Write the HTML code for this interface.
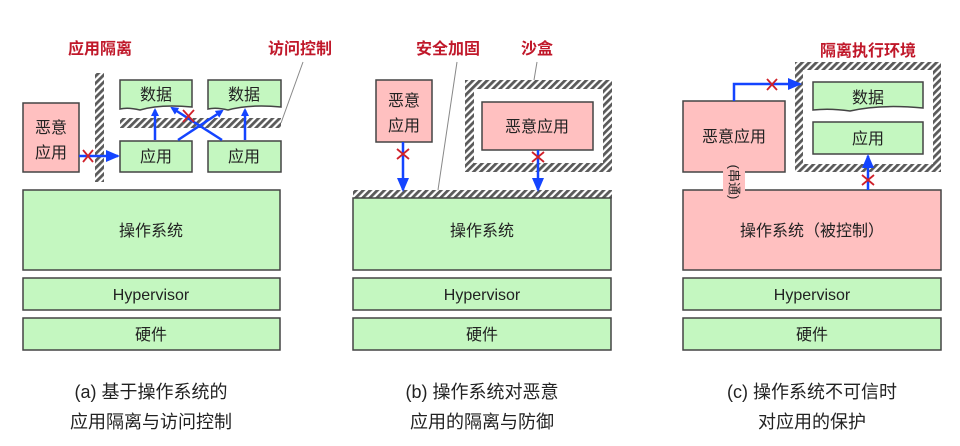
<!DOCTYPE html>
<html><head><meta charset="utf-8"><style>
html,body{margin:0;padding:0;background:#fff;}
svg{display:block;}
text{font-family:"Liberation Sans","Noto Sans CJK SC",sans-serif;fill:#222;}
.r{fill:#c0182a;font-weight:bold;font-size:16px;}
.g{fill:#c4f7c0;stroke:#444;stroke-width:1.5;}
.p{fill:#ffc0c0;stroke:#444;stroke-width:1.5;}
.t{font-size:16px;text-anchor:middle;}
.c{font-size:18px;text-anchor:middle;}
.b{stroke:#1444ff;stroke-width:2.5;fill:none;}
.x{stroke:#d0202a;stroke-width:1.8;}
</style></head><body>
<svg width="960" height="446" viewBox="0 0 960 446" xmlns="http://www.w3.org/2000/svg">
<defs>
<pattern id="h" patternUnits="userSpaceOnUse" width="5" height="5" patternTransform="rotate(45)">
<rect width="5" height="5" fill="#fff"/><rect width="2.8" height="5" fill="#5a5a5a"/>
</pattern>
<marker id="a" markerWidth="8" markerHeight="8" refX="6" refY="4" orient="auto" markerUnits="userSpaceOnUse"><path d="M0,0 L8,4 L0,8z" fill="#1444ff"/></marker>
<marker id="A" markerWidth="14" markerHeight="12" refX="12" refY="6" orient="auto" markerUnits="userSpaceOnUse"><path d="M0,0 L14,6 L0,12z" fill="#1444ff"/></marker>
</defs>

<!-- Panel a -->
<text class="r" x="100" y="54" text-anchor="middle">应用隔离</text>
<text class="r" x="300" y="54" text-anchor="middle">访问控制</text>
<line x1="303" y1="62" x2="281" y2="123" stroke="#888" stroke-width="1"/>
<rect x="95" y="73" width="9" height="109" fill="url(#h)"/>
<rect x="120" y="118" width="161" height="10" fill="url(#h)"/>
<rect class="p" x="23" y="103" width="56" height="69"/>
<text class="t" x="51" y="133">恶意</text><text class="t" x="51" y="158">应用</text>
<path class="g" d="M120,80 H192 V107 Q160,104 140,110 Q128,107 120,109 Z"/>
<text class="t" x="156" y="100">数据</text>
<path class="g" d="M208,80 H281 V107 Q250,104 228,110 Q216,107 208,109 Z"/>
<text class="t" x="244" y="100">数据</text>
<rect class="g" x="120" y="141" width="72" height="31"/><text class="t" x="156" y="162">应用</text>
<rect class="g" x="208" y="141" width="73" height="31"/><text class="t" x="244" y="162">应用</text>
<line class="b" x1="79" y1="156" x2="118" y2="156" marker-end="url(#A)"/>
<path class="x" d="M83,150 L93,162 M93,150 L83,162"/>
<line class="b" x1="155" y1="140" x2="155" y2="110" marker-end="url(#a)"/>
<line class="b" x1="245" y1="140" x2="245" y2="110" marker-end="url(#a)"/>
<line class="b" x1="178" y1="140" x2="222" y2="111" marker-end="url(#a)"/>
<line class="b" x1="222" y1="140" x2="172" y2="108" marker-end="url(#a)"/>
<path class="x" d="M183,110 L194,122 M194,110 L183,122"/>
<rect class="g" x="23" y="190" width="257" height="80"/><text class="t" x="151" y="236">操作系统</text>
<rect class="g" x="23" y="278" width="257" height="32"/><text class="t" x="151" y="300">Hypervisor</text>
<rect class="g" x="23" y="318" width="257" height="32"/><text class="t" x="151" y="340">硬件</text>
<text class="c" x="151" y="398">(a) 基于操作系统的</text>
<text class="c" x="151" y="428">应用隔离与访问控制</text>

<!-- Panel b -->
<text class="r" x="448" y="54" text-anchor="middle">安全加固</text>
<text class="r" x="537" y="54" text-anchor="middle">沙盒</text>
<line x1="457" y1="62" x2="438" y2="190" stroke="#888" stroke-width="1"/>
<line x1="537" y1="62" x2="534" y2="80" stroke="#888" stroke-width="1"/>
<rect x="465" y="80" width="147" height="92" fill="url(#h)"/>
<rect x="474" y="89" width="129" height="74" fill="#fff"/>
<rect class="p" x="482" y="102" width="111" height="48"/><text class="t" x="537" y="132">恶意应用</text>
<rect class="p" x="376" y="80" width="56" height="62"/>
<text class="t" x="404" y="106">恶意</text><text class="t" x="404" y="131">应用</text>
<rect x="353" y="190" width="259" height="9" fill="url(#h)"/>
<rect class="g" x="353" y="198" width="258" height="72"/><text class="t" x="482" y="236">操作系统</text>
<line class="b" x1="403" y1="142" x2="403" y2="190" marker-end="url(#A)"/>
<path class="x" d="M397,149 L409,159 M409,149 L397,159"/>
<line class="b" x1="538" y1="150" x2="538" y2="190" marker-end="url(#A)"/>
<path class="x" d="M532,152 L544,162 M544,152 L532,162"/>
<rect class="g" x="353" y="278" width="258" height="32"/><text class="t" x="482" y="300">Hypervisor</text>
<rect class="g" x="353" y="318" width="258" height="32"/><text class="t" x="482" y="340">硬件</text>
<text class="c" x="482" y="398">(b) 操作系统对恶意</text>
<text class="c" x="482" y="428">应用的隔离与防御</text>

<!-- Panel c -->
<text class="r" x="868" y="56" text-anchor="middle">隔离执行环境</text>
<rect x="795" y="62" width="146" height="110" fill="url(#h)"/>
<rect x="803" y="70" width="130" height="94" fill="#fff"/>
<path class="g" d="M813,82 H923 V108 Q880,104 850,111 Q830,108 813,110 Z"/>
<text class="t" x="868" y="103">数据</text>
<rect class="g" x="813" y="122" width="110" height="32"/><text class="t" x="868" y="144">应用</text>
<rect class="p" x="683" y="101" width="102" height="71"/><text class="t" x="734" y="142">恶意应用</text>
<rect class="p" x="683" y="190" width="258" height="80"/><text class="t" x="812" y="236">操作系统（被控制）</text>
<rect x="723" y="171" width="22" height="21" fill="#ffc0c0"/>
<text x="734" y="182" font-size="13" text-anchor="middle" transform="rotate(90 734 182)" dy="4.5">(串通)</text>
<path class="b" d="M734,101 V84 H800" marker-end="url(#A)"/>
<path class="x" d="M767,79 L777,90 M777,79 L767,90"/>
<line class="b" x1="868" y1="190" x2="868" y2="156" marker-end="url(#A)"/>
<path class="x" d="M862,175 L874,185 M874,175 L862,185"/>
<rect class="g" x="683" y="278" width="258" height="32"/><text class="t" x="812" y="300">Hypervisor</text>
<rect class="g" x="683" y="318" width="258" height="32"/><text class="t" x="812" y="340">硬件</text>
<text class="c" x="812" y="398">(c) 操作系统不可信时</text>
<text class="c" x="812" y="428">对应用的保护</text>
</svg>
</body></html>
